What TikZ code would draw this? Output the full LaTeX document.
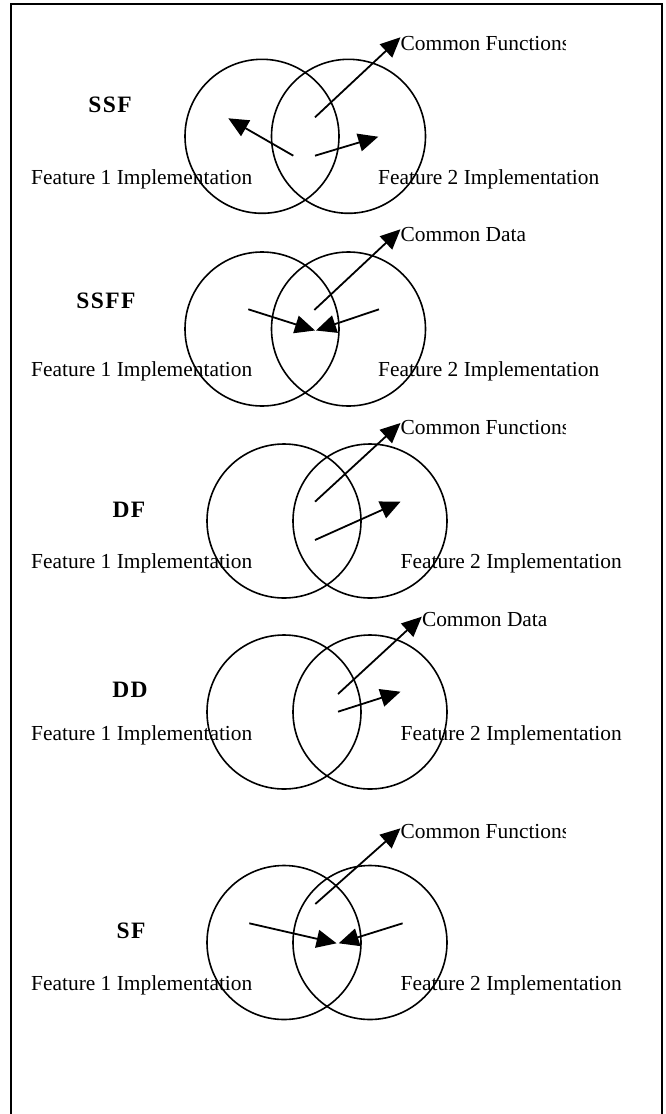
\documentclass[tikz,border=0pt]{standalone}
\usepackage{fontspec}
\setmainfont{Liberation Serif}
\newfontfamily\tagfont{Liberation Serif}[LetterSpace=6]
\usetikzlibrary{arrows.meta,positioning}

\begin{document}
\begin{tikzpicture}[
    x=1pt, y=-1pt,
    font=\fontsize{21.4}{25}\selectfont,
    ring/.style={
        circle,
        draw=black,
        line width=1.6pt,
        minimum size=154pt,
        inner sep=0pt
    },
    arr/.style={-{Triangle[length=20pt,width=18pt]}, line width=1.8pt},
    impl/.style={anchor=base west, inner sep=0pt},
    common/.style={anchor=base west, inner sep=0pt},
    tag/.style={
        anchor=base,
        inner sep=0pt,
        font=\fontsize{23.5}{26}\tagfont\bfseries
    },
    frame/.style={line width=2pt}
]
\useasboundingbox (0,0) rectangle (666,1114);

% outer frame (bottom edge runs off the page)
\draw[frame] (10.7,4) rectangle (662.3,1130);

% SSF
\node[ring] (ssfL) at (262,136.3) {};
\node[ring] (ssfR) at (348.5,136.3) {};
\node[tag] (ssfTag) at (110,112) {SSF};
\node[impl] (ssfF1) at (31,184.3) {Feature 1 Implementation};
\node[impl] (ssfF2) at (378,184.3) {Feature 2 Implementation};
\coordinate (ssfA) at (315,117.3);
\coordinate (ssfB) at (400.5,37.3);
\coordinate (ssfC) at (293.3,155.7);
\coordinate (ssfD) at (228.3,118.3);
\coordinate (ssfE) at (315,155.7);
\coordinate (ssfG) at (378.3,136.7);
\draw[arr] (ssfA) -- (ssfB);
\draw[arr] (ssfC) -- (ssfD);
\draw[arr] (ssfE) -- (ssfG);

% SSFF
\node[ring] (ssffL) at (262,329) {};
\node[ring] (ssffR) at (348.5,329) {};
\node[tag] (ssffTag) at (106,308) {SSFF};
\node[impl] (ssffF1) at (31,376.7) {Feature 1 Implementation};
\node[impl] (ssffF2) at (378,376.7) {Feature 2 Implementation};
\node[common] (ssffCom) at (400.5,241.7) {Common Data};
\coordinate (ssffA) at (314.3,310);
\coordinate (ssffB) at (400.5,229.3);
\coordinate (ssffC) at (248.3,309.3);
\coordinate (ssffD) at (315,330.5);
\coordinate (ssffE) at (379,309.3);
\coordinate (ssffG) at (316,330.5);
\draw[arr] (ssffA) -- (ssffB);
\draw[arr] (ssffC) -- (ssffD);
\draw[arr] (ssffE) -- (ssffG);

% DF
\node[ring] (dfL) at (284,521) {};
\node[ring] (dfR) at (370,521) {};
\node[tag] (dfTag) at (129,517) {DF};
\node[impl] (dfF1) at (31,568.3) {Feature 1 Implementation};
\node[impl] (dfF2) at (400.5,568.3) {Feature 2 Implementation};
\coordinate (dfA) at (315,501.7);
\coordinate (dfB) at (400.5,423);
\coordinate (dfC) at (315,540);
\coordinate (dfD) at (400.5,501.7);
\draw[arr] (dfA) -- (dfB);
\draw[arr] (dfC) -- (dfD);

% DD
\node[ring] (ddL) at (284,712) {};
\node[ring] (ddR) at (370,712) {};
\node[tag] (ddTag) at (130,697) {DD};
\node[impl] (ddF1) at (31,740) {Feature 1 Implementation};
\node[impl] (ddF2) at (400.5,740) {Feature 2 Implementation};
\node[common] (ddCom) at (421.8,626.7) {Common Data};
\coordinate (ddA) at (338,694);
\coordinate (ddB) at (421.8,616.7);
\coordinate (ddC) at (338,711.7);
\coordinate (ddD) at (400.5,691.7);
\draw[arr] (ddA) -- (ddB);
\draw[arr] (ddC) -- (ddD);

% SF
\node[ring] (sfL) at (284,942.5) {};
\node[ring] (sfR) at (370,942.5) {};
\node[tag] (sfTag) at (131,938) {SF};
\node[impl] (sfF1) at (31,990) {Feature 1 Implementation};
\node[impl] (sfF2) at (400.5,990) {Feature 2 Implementation};
\coordinate (sfA) at (315.3,904);
\coordinate (sfB) at (400.5,828.3);
\coordinate (sfC) at (249.3,923.3);
\coordinate (sfD) at (336.6,943.3);
\coordinate (sfE) at (402.6,923.3);
\coordinate (sfG) at (338.7,943.3);
\draw[arr] (sfA) -- (sfB);
\draw[arr] (sfC) -- (sfD);
\draw[arr] (sfE) -- (sfG);

% "Common Functions" labels, cut off on the right
\begin{scope}
\clip (0,0) rectangle (565,1114);
\node[common] (ssfCom) at (400.5,50) {Common Functions};
\node[common] (dfCom) at (400.5,434) {Common Functions};
\node[common] (sfCom) at (400.5,838.3) {Common Functions};
\end{scope}

\end{tikzpicture}
\end{document}
